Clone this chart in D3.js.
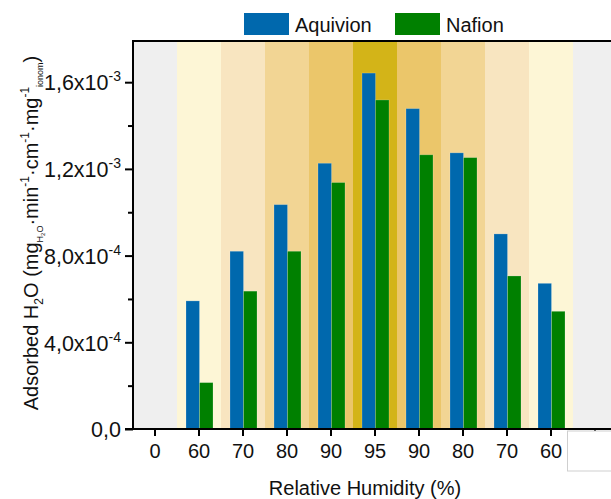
<!DOCTYPE html>
<html>
<head>
<meta charset="utf-8">
<script src="https://cdn.jsdelivr.net/npm/d3@7.9.0/dist/d3.min.js"></script>
<style>
  body { margin: 0; background: #fff; }
  svg { display: block; font-family: "Liberation Sans", Arial, sans-serif; }
</style>
</head>
<body>
<svg id="chart" width="611" height="499"></svg>
<script>
// relative humidity steps (up then down), empty first/last slot
const categories = ["0", "60", "70", "80", "90", "95", "90", "80", "70", "60", "0"];
const aquivion = [null, 5.91e-4, 8.20e-4, 1.035e-3, 1.226e-3, 1.642e-3, 1.478e-3, 1.274e-3, 9.0e-4, 6.72e-4, null];
const nafion = [null, 2.14e-4, 6.36e-4, 8.20e-4, 1.137e-3, 1.518e-3, 1.265e-3, 1.252e-3, 7.06e-4, 5.43e-4, null];
const yTicks = [0, 4e-4, 8e-4, 1.2e-3, 1.6e-3];
const yMinorTicks = [2e-4, 6e-4, 1.0e-3, 1.4e-3];
const seriesNames = ["Aquivion", "Nafion"];

const svg = d3.select("#chart");
const plotLeft = 133, plotTop = 41, plotBottom = 429;
const fs = 20;

let x = d3.scaleBand()
  .domain(d3.range(categories.length))
  .range([plotLeft, plotLeft + 44 * categories.length])
  .padding(0);

let y = d3.scaleLinear().domain([0, 1.79e-3]).range([plotBottom, plotTop]);

let bandColor = d3.scaleOrdinal()
  .domain(["0", "60", "70", "80", "90", "95"])
  .range(["#efefef", "#fdf6d6", "#f8e5c0", "#f2d594", "#ebc66a", "#d3b418"]);

let seriesColor = d3.scaleOrdinal().domain(seriesNames).range(["#0068ad", "#008000"]);

// humidity background bands
svg.append("g")
  .selectAll("rect")
  .data(categories)
  .join("rect")
  .attr("x", (d, i) => x(i))
  .attr("y", plotTop)
  .attr("width", x.bandwidth())
  .attr("height", plotBottom - plotTop)
  .attr("fill", (d) => bandColor(d));

// bars
const barW = 13.5;
[aquivion, nafion].forEach((values, s) => {
  svg.append("g")
    .selectAll("rect")
    .data(values.map((v, i) => ({ v, i })).filter((d) => d.v !== null))
    .join("rect")
    .attr("x", (d) => x(d.i) + x.bandwidth() / 2 + 0.5 - barW + s * barW)
    .attr("y", (d) => y(d.v))
    .attr("width", barW)
    .attr("height", (d) => plotBottom - y(d.v))
    .attr("fill", seriesColor(seriesNames[s]))
    .attr("stroke", "rgba(255,255,255,0.25)")
    .attr("stroke-width", 0.8);
});

// x axis
let xAxis = svg.append("g")
  .attr("transform", `translate(0,${plotBottom})`)
  .call(d3.axisBottom(x).tickFormat((i) => categories[i]).tickSize(7).tickSizeOuter(0).tickPadding(8));
xAxis.select(".domain").remove();
xAxis.selectAll(".tick line").attr("stroke", "#000").attr("stroke-width", 2);
xAxis.selectAll(".tick text").attr("font-size", fs).attr("fill", "#111");

// y axis
let yAxis = svg.append("g")
  .attr("transform", `translate(${plotLeft},0)`)
  .call(d3.axisLeft(y).tickValues(yTicks).tickSize(8).tickSizeOuter(0).tickFormat(""));
yAxis.select(".domain").remove();
yAxis.selectAll(".tick line").attr("stroke", "#000").attr("stroke-width", 2);
yAxis.selectAll(".tick").each(function (v) {
  let t = d3.select(this).append("text")
    .attr("x", -12).attr("dy", "0.36em")
    .attr("text-anchor", "end").attr("font-size", 21.5).attr("fill", "#111");
  if (v === 0) {
    t.text("0,0");
    return;
  }
  let e = Math.floor(Math.log10(v) + 1e-9);
  let m = (v / Math.pow(10, e)).toFixed(1).replace(".", ",");
  t.append("tspan").text(m + "x10");
  t.append("tspan").attr("font-size", 14).attr("dy", -9).text(e);
});

svg.append("g")
  .attr("transform", `translate(${plotLeft},0)`)
  .call(d3.axisLeft(y).tickValues(yMinorTicks).tickSize(5).tickFormat(""))
  .call((g) => g.select(".domain").remove())
  .selectAll("line").attr("stroke", "#000").attr("stroke-width", 2);

// frame lines
svg.append("line").attr("x1", plotLeft).attr("x2", plotLeft).attr("y1", plotTop - 1).attr("y2", plotBottom + 1)
  .attr("stroke", "#000").attr("stroke-width", 2);
svg.append("line").attr("x1", plotLeft - 8).attr("x2", 611).attr("y1", plotBottom).attr("y2", plotBottom)
  .attr("stroke", "#000").attr("stroke-width", 2);
svg.append("line").attr("x1", plotLeft).attr("x2", 611).attr("y1", plotTop).attr("y2", plotTop)
  .attr("stroke", "#000").attr("stroke-width", 2);

// white box over the bottom right corner
svg.append("rect").attr("x", 567.5).attr("y", 431).attr("width", 60).attr("height", 40)
  .attr("fill", "#fff").attr("stroke", "#cfcfcf");

// axis titles
svg.append("text")
  .attr("x", 365).attr("y", 495)
  .attr("text-anchor", "middle").attr("font-size", fs).attr("fill", "#111")
  .text("Relative Humidity (%)");

let yl = svg.append("text")
  .attr("transform", "translate(38,233) rotate(-90)")
  .attr("text-anchor", "middle").attr("font-size", fs).attr("fill", "#111");
yl.append("tspan").text("Adsorbed H");
yl.append("tspan").attr("font-size", 12).attr("dy", 5).text("2");
yl.append("tspan").attr("dy", -5).text("O (mg");
yl.append("tspan").attr("font-size", 9).attr("dy", 5).text("H");
yl.append("tspan").attr("font-size", 6).attr("dy", 2).text("2");
yl.append("tspan").attr("font-size", 9).attr("dy", -2).text("O");
yl.append("tspan").attr("dy", -5).text("·min");
yl.append("tspan").attr("font-size", 12).attr("dy", -9).text("-1");
yl.append("tspan").attr("dy", 9).text("·cm");
yl.append("tspan").attr("font-size", 12).attr("dy", -9).text("-1");
yl.append("tspan").attr("dy", 9).text("·mg");
yl.append("tspan").attr("font-size", 12).attr("dy", -9).text("-1");
yl.append("tspan").attr("font-size", 9).attr("dy", 14).text("ionom");
yl.append("tspan").attr("dy", -5).text(")");

// legend
let legend = svg.append("g");
seriesNames.forEach((name, i) => {
  let lx = 244 + i * 151;
  legend.append("rect").attr("x", lx).attr("y", 13).attr("width", 45).attr("height", 22)
    .attr("fill", seriesColor(name));
  legend.append("text").attr("x", lx + 51).attr("y", 32).attr("font-size", fs).attr("fill", "#111").text(name);
});
</script>
</body>
</html>
